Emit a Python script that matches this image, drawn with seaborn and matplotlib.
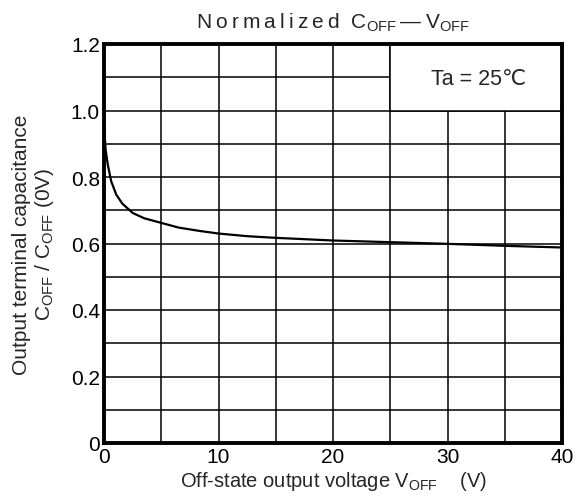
import matplotlib.pyplot as plt
import seaborn as sns
import pandas as pd
from matplotlib.patches import Rectangle
from matplotlib.ticker import MultipleLocator, FuncFormatter

# Curve
V_OFF = [0, 0.05, 0.15, 0.33, 0.63, 1.07, 1.6, 2.5, 3.5, 5, 6.5, 8.3, 10,
         12.5, 15, 20, 25, 30, 35, 40]
C_RATIO = [1.0, 0.93, 0.88, 0.837, 0.787, 0.747, 0.72, 0.692, 0.676, 0.662,
           0.648, 0.638, 0.63, 0.622, 0.617, 0.609, 0.604, 0.599, 0.593, 0.588]

X_TICKS = [0, 10, 20, 30, 40]
Y_TICKS = [0, 0.2, 0.4, 0.6, 0.8, 1.0, 1.2]
NOTE = "Ta = 25\u2103"

sns.set_theme(style="white")
plt.rcParams["font.family"] = ["Liberation Sans", "DejaVu Sans"]
plt.rcParams["mathtext.fontset"] = "custom"
plt.rcParams["mathtext.rm"] = "Liberation Sans"
plt.rcParams["mathtext.it"] = "Liberation Sans"

df = pd.DataFrame({"v": V_OFF, "c": C_RATIO})

fig = plt.figure(figsize=(5.82, 5.02), dpi=100)
ax = fig.add_axes([104 / 582, 1 - 444 / 502, 458 / 582, 399 / 502])

sns.lineplot(data=df, x="v", y="c", color="black", linewidth=1.6, ax=ax,
             zorder=3)

ax.set_xlim(0, 40)
ax.set_ylim(0, 1.2)
ax.set_xticks(X_TICKS)
ax.set_yticks(Y_TICKS)
ax.xaxis.set_minor_locator(MultipleLocator(5))
ax.yaxis.set_minor_locator(MultipleLocator(0.1))
ax.yaxis.set_major_formatter(FuncFormatter(lambda y, _: "0" if y == 0 else f"{y:.1f}"))
ax.xaxis.set_major_formatter(FuncFormatter(lambda x, _: f"{x:.0f}"))
ax.tick_params(axis="both", which="both", length=0, labelsize=15,
               colors="black", pad=3)
ax.set_axisbelow(True)
ax.grid(which="both", color="black", linewidth=1.1)

for s in ax.spines.values():
    s.set_linewidth(2.8)
    s.set_color("black")
    s.set_zorder(5)

ax.add_patch(Rectangle((25, 1.0), 15, 0.2, facecolor="white",
                       edgecolor="black", linewidth=1.1, zorder=1))
ax.text(32.7, 1.096, NOTE, fontsize=15.5, ha="center", va="center", zorder=4)

sp = "\u2009"
title_word = sp.join("Normalized")
ax.set_title(title_word + "  " + r"C$_{\mathrm{OFF}}$" + sp + "\u2014" + sp
             + r"V$_{\mathrm{OFF}}$", fontsize=15, pad=12)
ax.set_xlabel(r"Off-state output voltage V$_{\mathrm{OFF}}$    (V)",
              fontsize=14.5, labelpad=2)
ax.set_ylabel("Output terminal capacitance\n"
              r"C$_{\mathrm{OFF}}$ / C$_{\mathrm{OFF}}$ (0V)",
              fontsize=15, linespacing=1.15, ha="center", va="center")
ax.yaxis.set_label_coords(-70 / 458, 0.5)

fig.savefig("out.png", dpi=100)
